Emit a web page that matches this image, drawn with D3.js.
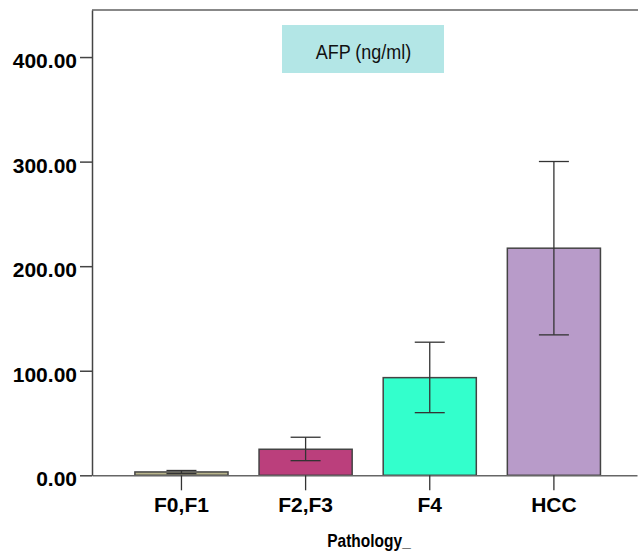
<!DOCTYPE html>
<html>
<head>
<meta charset="utf-8">
<script src="https://cdn.jsdelivr.net/npm/d3@7"></script>
<style>
  body { margin: 0; background: #fff; }
  svg { display: block; font-family: "Liberation Sans", Arial, sans-serif; }
</style>
</head>
<body>
<div id="chart"></div>
<script>
const categories = ["F0,F1", "F2,F3", "F4", "HCC"];
const means = [3.2, 24.9, 93.4, 217.2];
const lower = [1.6, 14.0, 59.9, 134.3];
const upper = [4.6, 36.4, 127.3, 300.1];
const yTicks = [0, 100, 200, 300, 400];
const colors = ["#b8b48c", "#bb3f7c", "#33ffcc", "#b89bc9"];

const width = 638, height = 551;
const margin = { top: 10, right: 1, bottom: 76, left: 92 };

const svg = d3.select("#chart")
    .append("svg")
    .attr("width", width)
    .attr("height", height);

const x = d3.scaleBand()
    .domain(categories)
    .range([margin.left, width - margin.right])
    .paddingInner(0.25)
    .paddingOuter(0.32)
    .align(0.54);

const y = d3.scaleLinear()
    .domain([0, 445])
    .range([height - margin.bottom + 0.3, margin.top]);

// top frame line
svg.append("line")
    .attr("x1", margin.left).attr("x2", width)
    .attr("y1", margin.top).attr("y2", margin.top)
    .attr("stroke", "#888").attr("stroke-width", 2);

// bars
svg.selectAll("rect.bar")
    .data(categories)
    .enter()
    .append("rect")
    .attr("class", "bar")
    .attr("x", d => x(d))
    .attr("y", (d, i) => y(means[i]))
    .attr("width", x.bandwidth())
    .attr("height", (d, i) => y(0) - y(means[i]))
    .attr("fill", (d, i) => colors[i])
    .attr("stroke", "#444")
    .attr("stroke-width", 1.5);

// error bars
const capW = 30;
const err = svg.append("g").attr("stroke", "#333").attr("stroke-width", 1.3);
categories.forEach((c, i) => {
    const cx = x(c) + x.bandwidth() / 2;
    err.append("line").attr("x1", cx).attr("x2", cx)
        .attr("y1", y(lower[i])).attr("y2", y(upper[i]));
    err.append("line").attr("x1", cx - capW / 2).attr("x2", cx + capW / 2)
        .attr("y1", y(upper[i])).attr("y2", y(upper[i]));
    err.append("line").attr("x1", cx - capW / 2).attr("x2", cx + capW / 2)
        .attr("y1", y(lower[i])).attr("y2", y(lower[i]));
});

// x axis
const gx = svg.append("g")
    .attr("transform", `translate(0,${y(0)})`)
    .call(d3.axisBottom(x).tickSize(15).tickPadding(7).tickSizeOuter(0));
gx.select(".domain").attr("stroke", "#666").attr("stroke-width", 1.5);
gx.selectAll(".tick line").attr("stroke", "#333").attr("stroke-width", 1.3);
gx.selectAll(".tick text")
    .attr("font-size", 21)
    .attr("font-weight", "bold")
    .attr("fill", "#000")
    .attr("font-family", "Liberation Sans, Arial, sans-serif");

// y axis
const gy = svg.append("g")
    .attr("transform", `translate(${margin.left},0)`)
    .call(d3.axisLeft(y).tickValues(yTicks).tickFormat(d3.format(".2f")).tickSize(12).tickPadding(3).tickSizeOuter(0));
gy.select(".domain").attr("stroke", "#444").attr("stroke-width", 1.5);
gy.selectAll(".tick line").attr("stroke", "#444").attr("stroke-width", 1.5);
gy.selectAll(".tick text")
    .attr("font-size", 21)
    .attr("font-weight", "bold")
    .attr("fill", "#000")
    .attr("dy", "0.5em")
    .attr("font-family", "Liberation Sans, Arial, sans-serif");

// axis title (slightly stretched vertically like the original)
svg.append("text")
    .attr("transform", "translate(369,547) scale(1,1.2)")
    .attr("text-anchor", "middle")
    .attr("font-size", 15.5)
    .attr("font-weight", "bold")
    .text("Pathology_");

// title box
svg.append("rect")
    .attr("x", 282).attr("y", 25)
    .attr("width", 162).attr("height", 48)
    .attr("fill", "#b3e6e6");
svg.append("text")
    .attr("transform", "translate(363.5,59) scale(1,1.08)")
    .attr("text-anchor", "middle")
    .attr("font-size", 18)
    .attr("fill", "#111")
    .text("AFP (ng/ml)");
</script>
</body>
</html>
